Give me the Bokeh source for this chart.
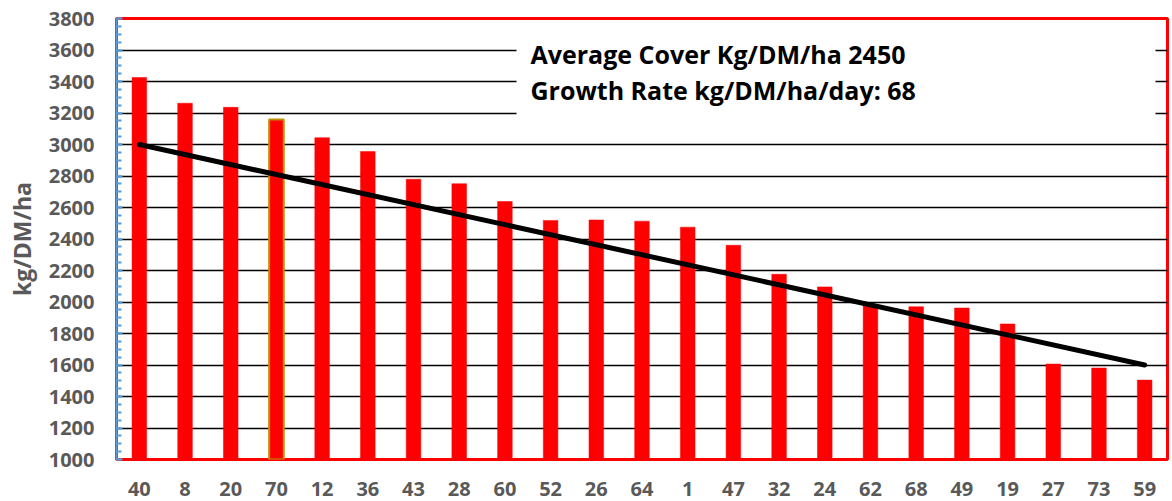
from bokeh.plotting import figure
from bokeh.models import FactorRange, Range1d, SingleIntervalTicker, BoxAnnotation, Label, ColumnDataSource
from bokeh.embed import file_html
from bokeh.resources import INLINE

# ---- data ----
paddocks = ["40", "8", "20", "70", "12", "36", "43", "28", "60", "52", "26", "64",
            "1", "47", "32", "24", "62", "68", "49", "19", "27", "73", "59"]
covers = [3425, 3262, 3236, 3158, 3043, 2955, 2779, 2751, 2638, 2518, 2521, 2513,
          2475, 2360, 2176, 2096, 1974, 1970, 1962, 1861, 1606, 1581, 1504]
highlighted = ["70"]
target_x = ["40", "59"]
target_y = [3000, 1600]
y_label = "kg/DM/ha"
note_lines = ["Average Cover Kg/DM/ha 2450", "Growth Rate kg/DM/ha/day: 68"]

FONT = "Open Sans"
GREY = "#595959"

line_colors = ["#BF9000" if p in highlighted else "#FF0000" for p in paddocks]
line_widths = [2 if p in highlighted else 0.5 for p in paddocks]
src = ColumnDataSource(dict(x=paddocks, top=covers, lc=line_colors, lw=line_widths))

p = figure(x_range=FactorRange(*paddocks), y_range=Range1d(1000, 3800),
           width=1172, height=501, output_backend="svg", toolbar_location=None,
           min_border_left=116, min_border_right=5, min_border_top=18, min_border_bottom=42)

p.background_fill_color = "white"
p.border_fill_color = "white"
p.outline_line_color = "#FF0000"
p.outline_line_width = 3

p.vbar(x="x", top="top", bottom=1000, width=0.32, source=src,
       fill_color="#FF0000", line_color="lc", line_width="lw")

p.line(target_x, target_y, line_color="black", line_width=5, line_cap="round")

# white note box covering gridlines
p.add_layout(BoxAnnotation(left=400, right=1039, top=424, bottom=334,
                           left_units="screen", right_units="screen",
                           top_units="screen", bottom_units="screen",
                           fill_color="white", fill_alpha=1.0, line_color=None))
for txt, yy in zip(note_lines, [406, 370]):
    p.add_layout(Label(x=414, y=yy, x_units="screen", y_units="screen", text=txt,
                       text_font=FONT, text_font_style="bold", text_font_size="25px",
                       text_color="black", text_baseline="alphabetic"))

# grid
p.xgrid.grid_line_color = None
p.ygrid.grid_line_color = "black"
p.ygrid.grid_line_width = 1.5

# y axis
p.yaxis.ticker = SingleIntervalTicker(interval=200, num_minor_ticks=4)
p.yaxis.axis_line_color = "#5B9BD5"
p.yaxis.axis_line_width = 2
p.yaxis.major_tick_line_color = "#5B9BD5"
p.yaxis.major_tick_line_width = 2
p.yaxis.major_tick_in = 6
p.yaxis.major_tick_out = 0
p.yaxis.minor_tick_line_color = "#5B9BD5"
p.yaxis.minor_tick_line_width = 2
p.yaxis.minor_tick_in = 5
p.yaxis.minor_tick_out = 0
p.yaxis.major_label_standoff = 22
p.yaxis.major_label_text_font = FONT
p.yaxis.major_label_text_font_style = "bold"
p.yaxis.major_label_text_font_size = "20px"
p.yaxis.major_label_text_color = GREY
p.yaxis.axis_label = y_label
p.yaxis.axis_label_text_font = FONT
p.yaxis.axis_label_text_font_style = "bold"
p.yaxis.axis_label_text_font_size = "23px"
p.yaxis.axis_label_text_color = GREY
p.yaxis.axis_label_standoff = 8

# x axis
p.xaxis.axis_line_color = None
p.xaxis.major_tick_line_color = None
p.xaxis.minor_tick_line_color = None
p.xaxis.major_label_standoff = 16
p.xaxis.major_label_text_font = FONT
p.xaxis.major_label_text_font_style = "bold"
p.xaxis.major_label_text_font_size = "20px"
p.xaxis.major_label_text_color = GREY

open("out.html", "w").write(file_html(p, INLINE))
